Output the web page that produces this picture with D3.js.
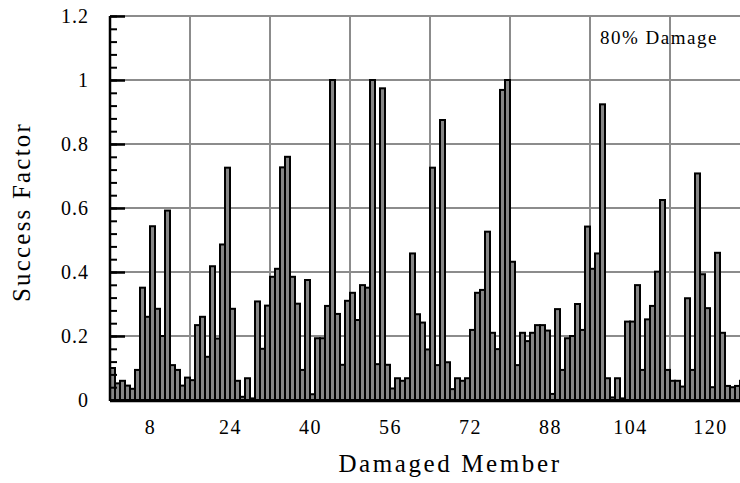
<!DOCTYPE html>
<html>
<head>
<meta charset="utf-8">
<script src="https://cdn.jsdelivr.net/npm/d3@7"></script>
<style>
  html, body { margin: 0; padding: 0; background: #fff; }
  svg { display: block; }
  text { font-family: "Liberation Serif", "Times New Roman", serif; fill: #000; }
</style>
</head>
<body>
<svg id="chart" width="740" height="483"></svg>
<script>
// success factor per damaged member (member 1 .. 127)
const successFactor = [
  0.100, 0.052, 0.060, 0.045, 0.035, 0.094, 0.351, 0.260, 0.543, 0.285,
  0.200, 0.592, 0.109, 0.094, 0.045, 0.070, 0.062, 0.234, 0.260, 0.135,
  0.418, 0.192, 0.486, 0.726, 0.285, 0.060, 0.010, 0.068, 0.005, 0.308,
  0.160, 0.295, 0.385, 0.410, 0.727, 0.760, 0.385, 0.301, 0.094, 0.375,
  0.018, 0.193, 0.193, 0.294, 1.000, 0.269, 0.110, 0.310, 0.335, 0.250,
  0.359, 0.351, 1.000, 0.112, 0.974, 0.110, 0.036, 0.068, 0.060, 0.068,
  0.458, 0.268, 0.242, 0.158, 0.726, 0.109, 0.875, 0.118, 0.034, 0.068,
  0.060, 0.068, 0.219, 0.335, 0.344, 0.526, 0.210, 0.159, 0.969, 1.000,
  0.432, 0.109, 0.210, 0.184, 0.210, 0.234, 0.234, 0.217, 0.019, 0.284,
  0.094, 0.193, 0.200, 0.300, 0.219, 0.542, 0.410, 0.458, 0.924, 0.068,
  0.008, 0.068, 0.005, 0.245, 0.245, 0.359, 0.094, 0.252, 0.294, 0.401,
  0.625, 0.094, 0.060, 0.060, 0.042, 0.318, 0.094, 0.708, 0.393, 0.287,
  0.040, 0.460, 0.210, 0.044, 0.040, 0.044, 0.060
];
const members = successFactor.map((v, i) => i + 1);

const memberTicks = [8, 24, 40, 56, 72, 88, 104, 120];
const memberGrid = [16, 32, 48, 64, 80, 96, 112, 128];
const yTicks = [0, 0.2, 0.4, 0.6, 0.8, 1, 1.2];
const yMinorTicks = d3.range(0, 31).map(k => k * 0.04);
const note = "80% Damage";

const svg = d3.select("#chart");
const plotLeft = 110, plotRight = 750, plotTop = 16, plotBottom = 400;

// each member occupies one unit: bar i spans [i-1, i]
const x = d3.scaleLinear().domain([0, 128]).range([plotLeft, plotRight]);
const y = d3.scaleLinear().domain([0, 1.2]).range([plotBottom, plotTop]);

// --- grid ---
const grid = svg.append("g").attr("stroke", "#8c8c8c").attr("stroke-width", 2);
grid.selectAll("line.h").data(yTicks.filter(d => d > 0)).join("line")
  .attr("class", "h")
  .attr("x1", plotLeft).attr("x2", plotRight)
  .attr("y1", d => y(d)).attr("y2", d => y(d));
grid.selectAll("line.v").data(memberGrid).join("line")
  .attr("class", "v")
  .attr("x1", d => x(d)).attr("x2", d => x(d))
  .attr("y1", plotTop).attr("y2", plotBottom);

// --- bars ---
svg.append("g")
  .selectAll("rect")
  .data(members)
  .join("rect")
    .attr("x", d => x(d - 1))
    .attr("width", x(1) - x(0))
    .attr("y", d => y(successFactor[d - 1]))
    .attr("height", d => y(0) - y(successFactor[d - 1]))
    .attr("fill", "#858585")
    .attr("stroke", "#000")
    .attr("stroke-width", 2);

// --- y axis (ticks point inward) ---
const yMinor = svg.append("g")
  .attr("transform", `translate(${plotLeft},0)`)
  .call(d3.axisLeft(y).tickValues(yMinorTicks).tickSize(-7).tickFormat(""));
yMinor.select(".domain").remove();
yMinor.selectAll("line").attr("stroke-width", 2);

const yAxis = svg.append("g")
  .attr("transform", `translate(${plotLeft},0)`)
  .call(d3.axisLeft(y).tickValues(yTicks).tickSize(-15).tickPadding(21)
    .tickFormat(d => d === 0 || d === 1 ? d3.format("d")(d) : d3.format(".1f")(d)));
yAxis.select(".domain").remove();
yAxis.selectAll("line").attr("stroke-width", 2.5);
yAxis.selectAll("text")
  .attr("font-size", 20)
  .attr("letter-spacing", 1)
  .style("font-family", "'Liberation Serif', serif");

// axis lines
svg.append("line")
  .attr("x1", plotLeft).attr("x2", plotLeft).attr("y1", plotTop).attr("y2", plotBottom + 1)
  .attr("stroke", "#000").attr("stroke-width", 2.5);
svg.append("line")
  .attr("x1", plotLeft).attr("x2", plotRight).attr("y1", plotBottom + 1).attr("y2", plotBottom + 1)
  .attr("stroke", "#000").attr("stroke-width", 2.5);

// --- x axis labels ---
const xAxis = svg.append("g")
  .attr("transform", `translate(0,${plotBottom})`)
  .call(d3.axisBottom(x).tickValues(memberTicks).tickSize(0).tickPadding(20).tickFormat(d3.format("d")));
xAxis.select(".domain").remove();
xAxis.selectAll("text")
  .attr("font-size", 20)
  .attr("letter-spacing", 1.5)
  .style("font-family", "'Liberation Serif', serif");

// --- titles ---
svg.append("text")
  .attr("x", 450).attr("y", 472)
  .attr("text-anchor", "middle")
  .attr("font-size", 25)
  .attr("letter-spacing", 2.6)
  .text("Damaged Member");

svg.append("text")
  .attr("transform", "translate(30,212) rotate(-90)")
  .attr("text-anchor", "middle")
  .attr("font-size", 25)
  .attr("letter-spacing", 2.2)
  .text("Success Factor");

svg.append("text")
  .attr("x", 659).attr("y", 44)
  .attr("text-anchor", "middle")
  .attr("font-size", 19)
  .attr("letter-spacing", 1.5)
  .text(note);
</script>
</body>
</html>
